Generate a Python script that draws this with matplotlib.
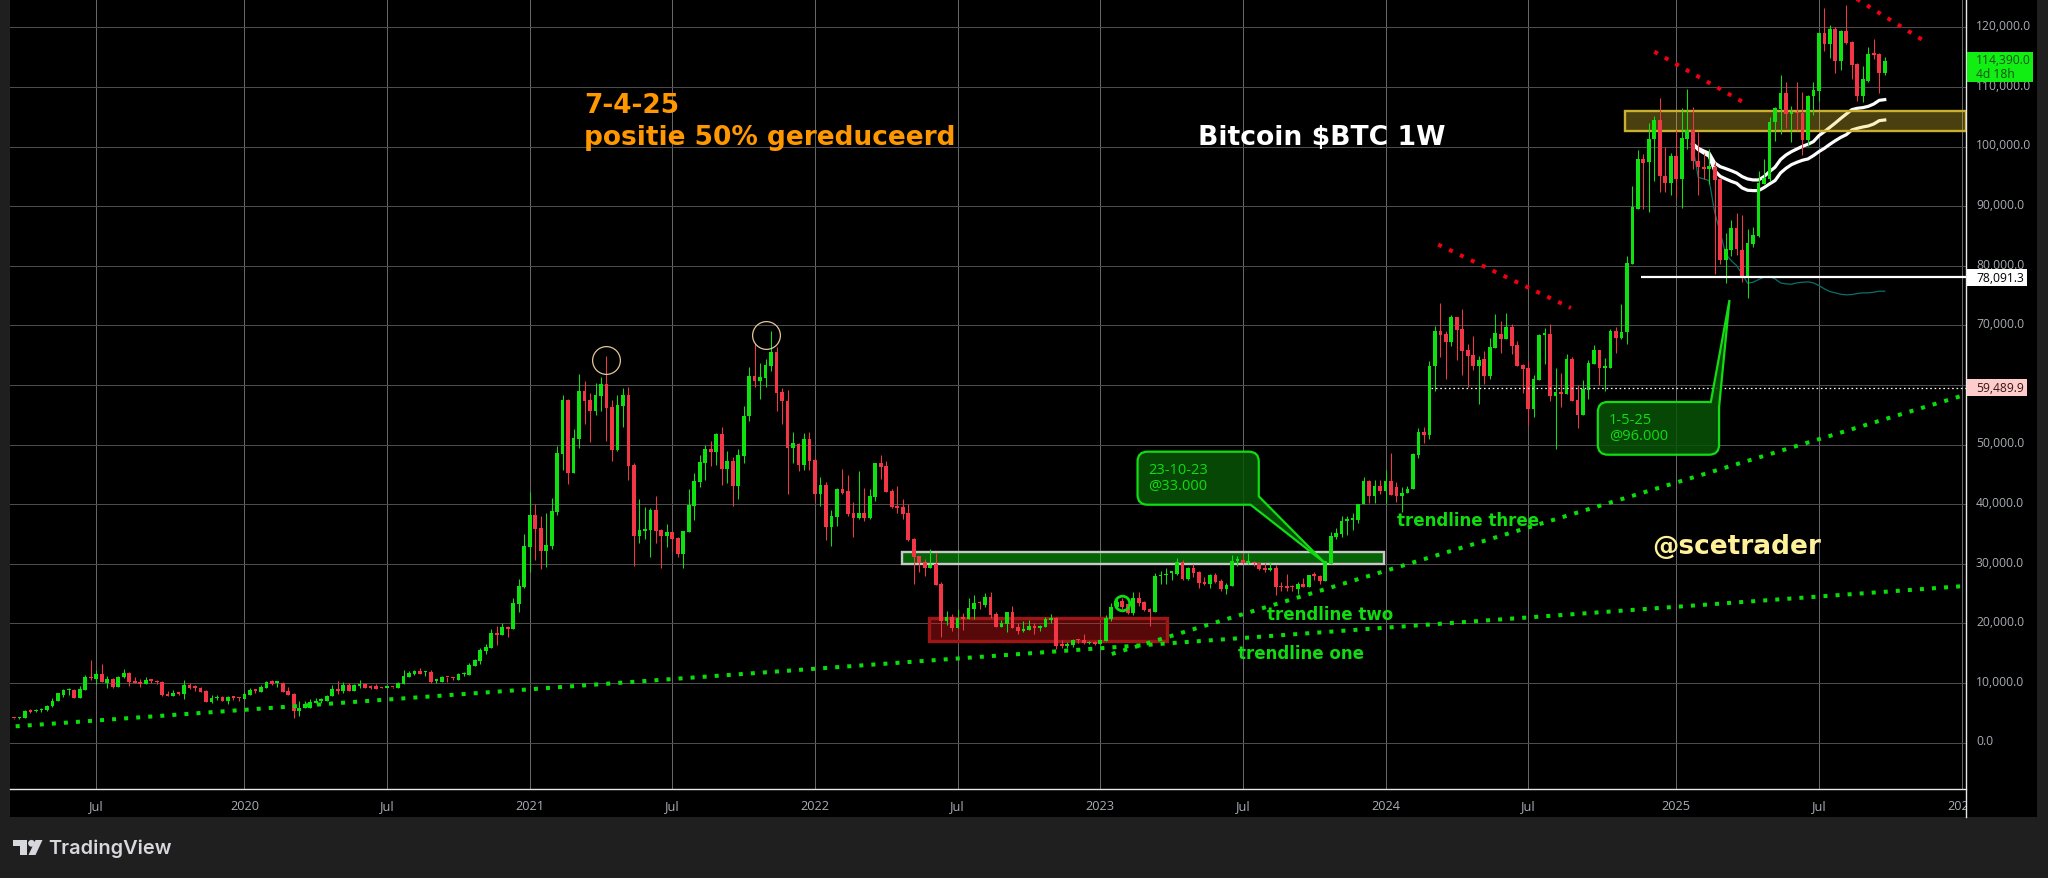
from __future__ import annotations

import matplotlib

matplotlib.use("Agg")
import matplotlib.pyplot as plt
import numpy as np
import pandas as pd
from matplotlib.patches import Circle, PathPatch, Polygon, Rectangle
from matplotlib.path import Path

# weekly BTC candles (first bar 2019-03-18)
FIRST_BAR = "2019-03-18"

opens = [
    4050, 4040, 4186, 5360, 5250, 5400, 5420, 6090, 6930, 8040, 8830, 8880, 7540, 8880, 11000, 10730,
    11570, 10060, 10730, 9390, 10950, 11730, 10390, 10220, 9780, 10560, 10390, 10220, 8210, 7880,
    8380, 8210, 9720, 9390, 9220, 8710, 6870, 7480, 7700, 7040, 7700, 7540,
    7370, 8040, 8880, 8550, 9220, 10390, 10060, 10060, 8710, 8210, 5360, 5860, 5860, 6700, 7000, 7040,
    7760, 9050, 8710, 9720, 8710, 9440, 9890, 9440, 9440, 9270, 9110, 9330, 9220, 9890, 11060, 11450,
    12070, 11800, 11900, 10390, 10220, 11000, 10890, 10560, 11450, 11400, 12900, 13750, 15420, 15925,
    18440, 18100, 19450, 19100, 23300, 26150,
    32830, 38190, 35960, 32160, 33050, 38700, 48400, 57500, 45250, 50950, 59000, 57500, 55650, 58150,
    60150, 56300, 49100, 56500, 58300, 46550, 34650, 35500, 35650, 39000, 35650, 34650, 35350, 34300,
    31650, 35350, 39700, 43750, 46900, 49250, 48750, 51800, 45900, 47250, 43050, 48100, 54800, 61500,
    60650, 61150, 63200, 65550, 58800, 57300, 49450, 50100, 46600, 50950,
    47400, 41700, 43200, 36150, 37800, 42500, 42170, 38500, 37650, 38500, 37650, 41150, 46850, 46350,
    42170, 39650, 39500, 38500, 34100, 31250, 30250, 29250, 29950, 26550, 20400, 21050, 19200, 20900,
    20700, 22400, 23500, 23050, 24400, 21550, 19350, 19900, 21900, 19350, 18700, 18850, 19550, 19200,
    19350, 20600, 20900, 16350, 16250, 16350, 17200, 17200, 16700, 16850,
    16580, 17080, 20770, 22780, 23790, 23300, 21780, 24300, 23600, 22450, 21950, 27930, 28040, 28480,
    28320, 30330, 27480, 29320, 28650, 26970, 26640, 28150, 27140, 25800, 26300, 30500, 30670, 30160,
    30220, 30160, 29320, 28990, 29320, 26140, 26140, 26140, 25800, 26640, 26140, 28150, 27980, 27140,
    30000, 34520, 35020, 37200, 37370, 37370, 40000, 43800, 41280, 42960,
    42170, 43960, 42790, 41400, 41950, 42620, 48250, 52050, 51600, 63100, 69050, 68550, 67150, 71400,
    69400, 65860, 65000, 63200, 64350, 61500, 66200, 68550, 67700, 69700, 66700, 63350, 62850, 55970,
    60830, 68450, 68550, 58150, 58800, 58500, 64350, 57480, 54960, 59160, 63520, 65860, 62900, 62850,
    69050, 67880, 68850, 80300, 89600, 97900, 97350, 101200, 104500, 95100, 93900,
    98400, 94600, 101300, 102700, 97600, 96600, 96200, 96600, 94550, 80900, 82700, 86300, 82700, 78250,
    83700, 84950, 93700, 94600, 104100, 106300, 109000, 105500, 105750, 105700, 101100, 108400, 109400,
    119050, 117200, 119700, 114400, 119350, 117600, 113850, 108400, 111050, 115500, 115500, 112350,
]
highs = [
    4080, 4200, 5530, 5580, 5580, 5860, 6370, 7540, 8380, 8900, 9220, 8930, 9550, 11400, 13900, 12240,
    13240, 11230, 10750, 11170, 12400, 11750, 11060, 10730, 11060, 10730, 10560, 10240, 8710, 8880,
    8490, 10560, 10060, 9720, 9240, 8730, 8040, 8040, 7760, 7720, 7880, 7600,
    8490, 9160, 8990, 9720, 10240, 10560, 10390, 10080, 9330, 8380, 7040, 7040, 7370, 7480, 7400, 7900,
    9610, 10280, 10110, 10000, 9830, 10560, 10060, 9720, 9890, 9380, 9460, 9390, 10220, 12240, 12070, 12240,
    12570, 11920, 12240, 10730, 11230, 11060, 11060, 11590, 11900, 13410, 14080, 15925, 16600, 19100,
    19600, 20100, 19600, 24300, 27500, 35000,
    42000, 40000, 38000, 38430, 41000, 49800, 58300, 57600, 52600, 61800, 60650, 58650, 60300, 61350,
    64850, 57500, 58300, 59500, 59650, 46900, 40900, 39550, 39350, 41400, 35850, 36700, 35400, 34500,
    35520, 42550, 45250, 48250, 49900, 50600, 51950, 52950, 48900, 47900, 49250, 56500, 63000, 67050,
    63700, 64350, 69050, 66400, 59500, 59150, 52100, 50300, 51950, 52100,
    47750, 44550, 43750, 39000, 42700, 45850, 44850, 40300, 45500, 42700, 42500, 46900, 48200, 47200,
    42500, 43000, 40850, 40000, 34300, 31300, 30800, 32450, 31800, 26900, 22050, 21550, 22400, 21700,
    24200, 24700, 23700, 25050, 25250, 21900, 20550, 21950, 22900, 20050, 20400, 20550, 20050, 19700,
    21050, 21550, 21050, 17200, 16850, 17350, 17450, 18250, 16950, 16950,
    17300, 21450, 23450, 24100, 24300, 23450, 25300, 25300, 23800, 22600, 28500, 28800, 29300, 28800,
    31000, 30660, 29500, 30000, 28800, 27800, 28320, 28480, 27480, 26800, 31500, 31340, 31670, 31840,
    30500, 30180, 30160, 30330, 29830, 26970, 28320, 26470, 26970, 27650, 28170, 28650, 28150, 30520,
    35360, 36030, 38040, 38040, 38550, 40070, 44630, 44070, 44070, 44070,
    45750, 48650, 43630, 42790, 43070, 48500, 52780, 52900, 63960, 69830, 73750, 69050, 71730, 71420,
    72740, 66870, 68200, 64850, 65700, 67900, 71900, 70700, 72070, 70220, 67370, 63500, 64000, 61670,
    68550, 69550, 70220, 62850, 62000, 65200, 64700, 60000, 60830, 64200, 66700, 65880, 64500, 69400,
    69700, 73580, 81700, 93400, 99400, 98750, 104000, 105200, 108100, 100000, 99000,
    102700, 106400, 109700, 106600, 102400, 99000, 99600, 97400, 94700, 85500, 87700, 88900, 88500, 86200,
    86500, 95850, 97900, 104900, 106600, 112000, 110800, 106750, 110800, 109100, 108650, 110800, 119100,
    123250, 120400, 120000, 119550, 123750, 117750, 114000, 113450, 116650, 118050, 115700, 114950,
]
lows = [
    4000, 4000, 4130, 5025, 5190, 5190, 5360, 6030, 6900, 7600, 8040, 7500, 7500, 8850, 10560, 9890,
    10200, 9220, 9220, 9370, 10900, 9550, 10000, 9390, 9750, 9940, 9780, 7880, 7860, 7860,
    8040, 7370, 9050, 8710, 8530, 6850, 6700, 7200, 7020, 6530, 7200, 7040,
    7350, 8020, 8380, 8530, 9200, 9720, 9390, 8530, 8020, 4190, 4520, 5840, 5840, 6680, 6700, 7020,
    7740, 8210, 8380, 8690, 8690, 9220, 9200, 9050, 8940, 9090, 9090, 9200, 9200, 9870, 11040, 11290,
    11550, 11230, 10060, 10060, 10200, 10220, 10560, 10540, 11230, 11380, 12880, 13240, 14920, 15900,
    16430, 18080, 17770, 19080, 21960, 26000,
    28600, 30700, 29170, 29390, 32400, 38100, 45700, 43300, 45200, 49400, 53450, 50450, 55000, 55650,
    50600, 47250, 48900, 52950, 44050, 29650, 33500, 34150, 31150, 33500, 29300, 32800, 32150, 31150,
    29300, 35330, 37350, 42900, 44050, 46400, 46600, 43200, 43550, 39700, 40900, 46900, 53950, 59650,
    57650, 59650, 62350, 55650, 53450, 41700, 46900, 45550, 45700, 45700,
    40550, 39700, 34000, 32950, 36300, 41650, 37950, 34450, 37500, 37150, 37500, 40500, 44200, 41980,
    39300, 38500, 37500, 33800, 26600, 28600, 27900, 29230, 26380, 17700, 19700, 18700, 19180, 18850,
    20680, 20700, 22400, 22700, 20900, 19330, 19330, 18550, 19180, 18200, 18550, 18830, 18200, 18700,
    19330, 20050, 15700, 15850, 15850, 16000, 16680, 16500, 16550, 16400,
    16550, 17060, 20430, 22450, 22450, 21600, 21450, 22950, 22100, 19600, 21930, 26640, 26640, 27300,
    28150, 27300, 27300, 27800, 25970, 26470, 25970, 26800, 25470, 24960, 26280, 29660, 29880, 29880,
    29660, 28990, 28650, 28820, 24800, 25470, 25470, 25470, 24960, 26120, 26120, 27300, 26640, 27120,
    29980, 34190, 34520, 34860, 35700, 36870, 39980, 40270, 40270, 41730,
    40270, 41480, 40400, 38600, 41900, 42600, 47750, 50250, 50950, 59050, 64700, 61000, 66500, 64200,
    61650, 59650, 62500, 56800, 60150, 61000, 66180, 65350, 67680, 65200, 63180, 58650, 53300, 54600,
    60810, 63500, 57300, 49260, 56300, 58480, 57280, 52780, 54940, 57650, 63500, 60000, 59050, 62830,
    65350, 67700, 66900, 80280, 89500, 89600, 89000, 94300, 92400, 92300, 91800,
    91500, 89700, 99600, 96200, 91800, 94600, 93700, 78600, 80300, 77100, 81700, 81800, 77200, 74600,
    83100, 84800, 93700, 94300, 101000, 102100, 103100, 100700, 102700, 98650, 100150, 105350, 107700,
    116000, 114850, 112350, 112900, 117200, 111350, 107700, 107550, 110900, 114700, 109000, 112000,
]
closes = [
    4030, 4130, 5360, 5200, 5360, 5560, 6140, 6980, 8320, 8880, 8940, 7540, 9050, 11060, 10840, 11570,
    10220, 10730, 9390, 11060, 11730, 10220, 10060, 9830, 10560, 10390, 10110, 7990, 7880, 8380,
    8210, 9720, 9220, 9220, 8550, 6870, 7540, 7650, 7040, 7700, 7540, 7430,
    8210, 8880, 8710, 9390, 10220, 9890, 10280, 8550, 8040, 5360, 5860, 6530, 6870, 6870, 7050, 7820,
    9050, 8710, 9720, 8710, 9610, 9890, 9220, 9220, 9050, 9110, 9440, 9270, 10060, 11230, 11730, 12070,
    11570, 11900, 10220, 10560, 11060, 10950, 10780, 11570, 11620, 13070, 13910, 15590, 16090, 18440,
    18100, 19450, 19100, 23470, 26320, 33000,
    38190, 35850, 32160, 33110, 38860, 48600, 57500, 45250, 51050, 59000, 57350, 55650, 58300, 60150,
    56150, 49100, 56650, 58300, 46400, 34650, 35650, 35850, 39000, 35500, 34650, 35350, 34150, 31650,
    35500, 39850, 43900, 47100, 49250, 48750, 51800, 45900, 47250, 43050, 48250, 54800, 61500, 60650,
    61350, 63350, 65550, 58650, 57300, 49450, 50300, 46600, 50950, 47250,
    41700, 43200, 36200, 37980, 42500, 41950, 38300, 37650, 38500, 37650, 41350, 46850, 46200, 42000,
    39500, 39300, 38300, 33950, 31100, 30100, 29250, 29800, 26400, 20400, 21050, 19200, 20900, 20800,
    22550, 23400, 23400, 24400, 21400, 19350, 20050, 21900, 19200, 18700, 19050, 19550, 19200, 19550,
    20700, 20900, 16200, 16250, 16400, 17200, 17150, 16700, 16850, 16550,
    17250, 20940, 22780, 23550, 22730, 21780, 24300, 23450, 22280, 21950, 27980, 28040, 28260, 28650,
    30330, 27480, 29320, 28480, 26800, 26640, 28150, 26970, 25800, 26470, 30500, 30600, 30160, 30270,
    30100, 29150, 28990, 29320, 26140, 26080, 25970, 26080, 26640, 26140, 28150, 27980, 27140, 30500,
    34690, 35190, 37200, 37370, 37480, 40050, 43900, 41280, 42960, 42170,
    43960, 41500, 41400, 41950, 42620, 48380, 52050, 51650, 63100, 69050, 68400, 67150, 71400, 69200,
    65700, 64850, 63200, 64200, 61500, 66370, 68700, 67700, 69700, 66530, 63200, 62700, 55970, 61000,
    68400, 68550, 58150, 58800, 58500, 64350, 57300, 54960, 59330, 63680, 65860, 62850, 63000, 69050,
    67880, 68880, 80400, 89900, 97900, 97250, 101300, 104500, 95100, 93900, 98400,
    94600, 101400, 102700, 97600, 96600, 96200, 96800, 94450, 80900, 82800, 86300, 82800, 78350, 83800,
    85200, 93900, 94700, 104100, 106500, 109000, 105500, 105700, 105650, 101100, 108500, 109500, 119050,
    117200, 119700, 114400, 119450, 117350, 113750, 108400, 111350, 115500, 115400, 112350, 114390,
]
# the moving averages and the thin teal line start at bar 306
AVG_FIRST_BAR = 306
avg_upper = [
    100490, 99710, 99260, 98870, 97250, 96630, 96300, 95960, 95570, 94960, 94570, 94400, 94400, 94960,
    95800, 96520, 97810, 98590, 99150, 99600, 100040, 100380, 100830, 101830, 102500, 103230, 103960,
    104740, 105470, 106190, 106420, 106530, 106750, 107140, 107760, 107870,
]
avg_lower = [
    100380, 99480, 98920, 98370, 95960, 95010, 94570, 94170, 93840, 93060, 92670, 92610, 92610, 93110,
    93730, 94290, 95570, 96350, 96970, 97360, 97700, 97920, 98480, 99150, 99710, 100380, 100990,
    101550, 102000, 102780, 103060, 103280, 103450, 103790, 104350, 104460,
]
avg_teal = [
    100150, 94840, 94570, 94290, 88980, 85620, 81990, 80870, 80030, 78630, 77070, 77240, 77680, 78080,
    78190, 77800, 77120, 76960, 76900, 77120, 77240, 77290, 77120, 76680, 76120, 75670, 75450, 75220,
    75110, 75170, 75340, 75450, 75450, 75560, 75730, 75730,
]

tick_dates = [
    "2019-07-01", "2020-01-06", "2020-07-06", "2021-01-04", "2021-07-05", "2022-01-03", "2022-07-04",
    "2023-01-02", "2023-07-03", "2024-01-01", "2024-07-01", "2025-01-06", "2025-07-07", "2026-01-05",
]
tick_labels = ["Jul", "2020", "Jul", "2021", "Jul", "2022", "Jul", "2023", "Jul", "2024", "Jul", "2025", "Jul", "2026"]
price_ticks = list(range(0, 130000, 10000))

# drawings on the chart, as (bar, price)
trend_one = [(0.3, 2720), (355.6, 26260)]
trend_two = [(200.1, 14850), (355.1, 58190)]
red_lines = [
    [(259.6, 83560), (283.8, 72910)],
    [(299.0, 115920), (316.1, 106970)],
    [(335.9, 124760), (348.2, 117710)],
]
last_price = 114390.0
white_level = 78091.3
dotted_level = 59489.9

# pixels of the reference
W, H = 2048, 879
PANE_L, PANE_R, PANE_B = 10, 1966, 790
BAR_PX = 5.486
BAR15_PX = 96.3
PX_TO_PRICE = 167.8
ZERO_PX = 743.5

GREEN = "#0fe00f"
RED = "#f23645"
TEXT_GREEN = "#10dc10"
AXIS_TEXT = "#a9acb4"
FONT = "DejaVu Sans"
LABEL_FONT = "Open Sans"


def bar_of(date):
    return (pd.Timestamp(date) - pd.Timestamp(FIRST_BAR)).days / 7


def rounded(points, flags, radius=10):
    # closed path in (bar, price) with round corners where flags is True
    pts = np.array(points, dtype=float)
    scale = np.array([BAR_PX, 1 / PX_TO_PRICE])
    verts, codes = [], []
    n = len(pts)
    for k in range(n):
        p, prev, nxt = pts[k], pts[k - 1], pts[(k + 1) % n]
        if flags[k]:
            a = (prev - p) * scale
            b = (nxt - p) * scale
            start = p + a / np.linalg.norm(a) * radius / scale
            end = p + b / np.linalg.norm(b) * radius / scale
            verts += [start, p, end]
            codes += [Path.LINETO, Path.CURVE3, Path.CURVE3]
        else:
            verts.append(p)
            codes.append(Path.LINETO)
    codes[0] = Path.MOVETO
    verts.append(verts[0])
    codes.append(Path.CLOSEPOLY)
    return Path(verts, codes)


def draw_candles(ax):
    o, h, l, c = map(np.array, (opens, highs, lows, closes))
    x = np.arange(len(o))
    colors = np.where(c >= o, GREEN, RED)
    ax.vlines(x, l, h, colors=colors, linewidth=0.75, zorder=4)
    body = np.maximum(np.abs(c - o), 220)
    ax.bar(x, body, bottom=np.minimum(o, c), width=0.68, color=colors, linewidth=0, zorder=4.1)


def draw_zones(ax):
    # yellow, green and red boxes
    ax.add_patch(Rectangle((293.7, 102560), 62.1, 3460, facecolor=(0.96, 0.82, 0.2, 0.3),
                           edgecolor="#c9b02e", linewidth=1.7, zorder=3))
    ax.add_patch(Rectangle((161.8, 29900), 88.0, 2115, facecolor=(0.06, 0.94, 0.06, 0.41),
                           edgecolor="#c8c8c8", linewidth=1.7, zorder=3))
    ax.add_patch(Rectangle((166.7, 17080), 43.5, 3760, facecolor=(0.9, 0.1, 0.1, 0.38),
                           edgecolor="#a01616", linewidth=2.4, zorder=3))


def draw_lines(ax):
    for line, color in ((trend_one, "#0bdc0b"), (trend_two, "#0bdc0b")):
        xs, ys = zip(*line)
        ax.plot(xs, ys, color=color, linewidth=2.9, linestyle=(0, (1, 2)), zorder=5)
    for line in red_lines:
        xs, ys = zip(*line)
        ax.plot(xs, ys, color="#f00010", linewidth=2.9, linestyle=(0, (1, 2)), zorder=5)

    bars = AVG_FIRST_BAR + np.arange(len(avg_upper))
    ax.plot(bars, avg_teal, color="#0b6f6a", linewidth=0.9, zorder=2.5)
    ax.plot(bars, avg_upper, color="white", linewidth=2.3, zorder=2.6)
    ax.plot(bars, avg_lower, color="white", linewidth=2.3, zorder=2.6)

    ax.hlines(white_level, 296.6, 355.8, color="white", linewidth=1.6, zorder=5)
    ax.plot([258.3, 355.8], [dotted_level, dotted_level], color="white", linewidth=0.9,
            linestyle=(0, (1.3, 2.2)), zorder=5)

    # tan circles on the two tops, green one in early 2023
    ax.plot([108, 137], [64130, 68330], "o", ms=20, mfc="none", mec="#e3c79a", mew=0.9, zorder=6)
    ax.plot([202], [23400], "o", ms=10.5, mfc="none", mec=TEXT_GREEN, mew=2.0, zorder=6)


def draw_callouts(ax):
    fill = (0.03, 0.33, 0.03, 0.85)
    one = [(204.8, 48800), (226.9, 48800), (226.9, 41310), (238.8, 30240), (225.4, 39900), (204.8, 39900)]
    ax.add_patch(PathPatch(rounded(one, [True, True, False, False, False, True]),
                           facecolor=fill, edgecolor="#11dd11", linewidth=1.6, zorder=6))
    two = [(288.7, 57140), (309.3, 57140), (312.7, 74250), (310.8, 56250), (310.8, 48290), (288.7, 48290)]
    ax.add_patch(PathPatch(rounded(two, [True, False, False, False, True, True]),
                           facecolor=fill, edgecolor="#11dd11", linewidth=1.6, zorder=6))


def draw_price_axis(fig):
    ax = fig.add_axes([PANE_R / W, 1 - PANE_B / H, 71 / W, PANE_B / H], zorder=3)
    ax.set_xlim(PANE_R, PANE_R + 71)
    ax.set_ylim((ZERO_PX - PANE_B) * PX_TO_PRICE, ZERO_PX * PX_TO_PRICE)
    ax.axis("off")
    for p in price_ticks:
        ax.text(1976, p + 270, f"{p:,.0f}.0", color=AXIS_TEXT, family=LABEL_FONT, fontsize=8.7,
                va="center", ha="left", zorder=1)
    # last price, level tags
    tag_h = 17 * PX_TO_PRICE
    ax.add_patch(Rectangle((1967, last_price - 21.5 * PX_TO_PRICE), 66, 30 * PX_TO_PRICE,
                           facecolor="#11ee11", linewidth=0, zorder=2))
    ax.text(1976, last_price + 180, f"{last_price:,.1f}", color="#1c4f1c", family=LABEL_FONT, fontsize=8.7,
            va="center", zorder=3)
    ax.text(1976, last_price - 13 * PX_TO_PRICE, "4d 18h", color="#1c4f1c", family=LABEL_FONT, fontsize=8.7,
            va="center", zorder=3)
    for level, bg, fg in ((white_level, "white", "black"), (dotted_level, "#ffcccc", "#331515")):
        ax.add_patch(Rectangle((1967, level - tag_h / 2), 60, tag_h, facecolor=bg, linewidth=0, zorder=2))
        ax.text(1976, level, f"{level:,.1f}", color=fg, family=LABEL_FONT, fontsize=8.7, va="center", zorder=3)


def draw_time_axis(fig, xlim):
    ax = fig.add_axes([PANE_L / W, 1 - 818 / H, (PANE_R - PANE_L) / W, 28 / H], zorder=3)
    ax.set_xlim(*xlim)
    ax.set_ylim(0, 1)
    ax.axis("off")
    for date, label in zip(tick_dates, tick_labels):
        ax.text(bar_of(date), 0.42, label, color=AXIS_TEXT, family=LABEL_FONT, fontsize=9.2,
                ha="center", va="center", clip_on=True)


def draw_overlay(fig):
    # frame, footer and free text in picture pixels
    ov = fig.add_axes([0, 0, 1, 1], zorder=2)
    ov.set_xlim(0, W)
    ov.set_ylim(H, 0)
    ov.axis("off")
    ov.patch.set_alpha(0)

    ov.plot([PANE_L, PANE_R], [PANE_B, PANE_B], color="#e8e8e8", linewidth=1.0)
    ov.plot([PANE_R, PANE_R], [0, 818], color="#e8e8e8", linewidth=1.0)

    ov.text(584, 106, "7-4-25", color="#ff9800", family=FONT, weight="bold", fontsize=19, va="center")
    ov.text(584, 138, "positie 50% gereduceerd", color="#ff9800", family=FONT, weight="bold", fontsize=19,
            va="center")
    ov.text(1198, 138, "Bitcoin $BTC 1W", color="white", family=FONT, weight="bold", fontsize=19.2, va="center")
    ov.text(1652, 547, "@scetrader", color="#fff09a", family=FONT, weight="bold", fontsize=19, va="center")
    ov.text(1397, 521, "trendline three", color=TEXT_GREEN, family=FONT, weight="bold", fontsize=12, va="center")
    ov.text(1267, 615, "trendline two", color=TEXT_GREEN, family=FONT, weight="bold", fontsize=12, va="center")
    ov.text(1238, 654, "trendline one", color=TEXT_GREEN, family=FONT, weight="bold", fontsize=12, va="center")

    ov.text(1148, 471, "23-10-23", color=TEXT_GREEN, family=LABEL_FONT, fontsize=10.5, va="center")
    ov.text(1148, 487, "@33.000", color=TEXT_GREEN, family=LABEL_FONT, fontsize=10.5, va="center")
    ov.text(1609, 421, "1-5-25", color=TEXT_GREEN, family=LABEL_FONT, fontsize=10.5, va="center")
    ov.text(1609, 437, "@96.000", color=TEXT_GREEN, family=LABEL_FONT, fontsize=10.5, va="center")

    logo = "#d6d8de"
    ov.add_patch(Polygon([(12.5, 841), (27, 841), (27, 856), (19.5, 856), (19.5, 847.5), (12.5, 847.5)],
                         facecolor=logo, linewidth=0))
    ov.add_patch(Circle((31.5, 844.3), 3.4, facecolor=logo, linewidth=0))
    ov.add_patch(Polygon([(35.5, 841), (42.5, 841), (35.5, 856), (28.5, 856)], facecolor=logo, linewidth=0))
    ov.text(48, 848.5, "TradingView", color=logo, family="Inter", weight="semibold", fontsize=14.4, va="center")


def main():
    fig = plt.figure(figsize=(W / 100, H / 100), dpi=100, facecolor="#1f1f1f")

    # black chart area behind everything
    bg = fig.add_axes([0, 0, 1, 1], zorder=0)
    bg.set_xlim(0, W)
    bg.set_ylim(H, 0)
    bg.axis("off")
    bg.add_patch(Rectangle((PANE_L, 0), 2037 - PANE_L, 818, facecolor="black", linewidth=0))

    ax = fig.add_axes([PANE_L / W, 1 - PANE_B / H, (PANE_R - PANE_L) / W, PANE_B / H], zorder=1)
    ax.patch.set_alpha(0)
    xlim = (15 + (PANE_L - BAR15_PX) / BAR_PX, 15 + (PANE_R - BAR15_PX) / BAR_PX)
    ax.set_xlim(*xlim)
    ax.set_ylim((ZERO_PX - PANE_B) * PX_TO_PRICE, ZERO_PX * PX_TO_PRICE)
    for spine in ax.spines.values():
        spine.set_visible(False)
    ax.set_xticks([bar_of(d) for d in tick_dates])
    ax.set_yticks(price_ticks)
    ax.tick_params(length=0, labelbottom=False, labelleft=False)
    ax.grid(True, axis="x", color="#666666", linewidth=0.72, zorder=1)
    ax.grid(True, axis="y", color="#4c4c4c", linewidth=0.72, zorder=1)
    ax.set_axisbelow(True)

    draw_zones(ax)
    draw_lines(ax)
    draw_candles(ax)
    draw_callouts(ax)

    draw_overlay(fig)
    draw_price_axis(fig)
    draw_time_axis(fig, xlim)

    fig.savefig("out.png", dpi=100, facecolor=fig.get_facecolor())
    plt.close(fig)


if __name__ == "__main__":
    main()
